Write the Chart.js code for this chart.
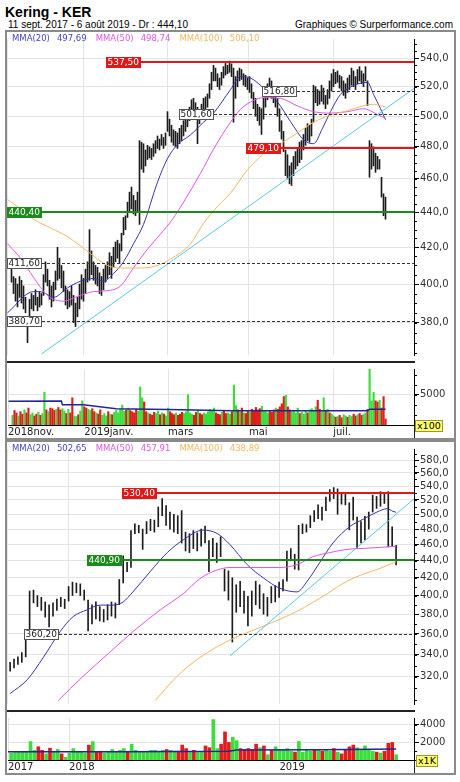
<!DOCTYPE html>
<html>
<head>
<meta charset="utf-8">
<script src="https://cdn.jsdelivr.net/npm/chart.js@4.4.1/dist/chart.umd.min.js"></script>
<style>
  body { margin: 0; background: #fff; font-family: "DejaVu Sans", sans-serif; }
  #page { position: relative; width: 460px; height: 782px; overflow: hidden; }
  .abs { position: absolute; white-space: nowrap; }
  .frame { position: absolute; border: 2px solid #8a8a8a; }
  canvas { position: absolute; }
  .legend { position: absolute; font-size: 8.5px; line-height: 10px; white-space: nowrap; z-index: 3; }
  .legend span { margin-right: 7px; }
  .legend span.v { margin-right: 9px; }
  .unit { position: absolute; font-size: 9.5px; line-height: 10px; background: #ffff70; border: 1px solid #9a9a20; padding: 0 1px; z-index: 3; }
  .rule { position: absolute; background: #222; z-index: 2; }
</style>
</head>
<body>
<div id="page">
  <div class="abs" style="left:5px;top:5px;font:bold 14px 'Liberation Sans';line-height:14px;">Kering - KER</div>
  <div class="abs" style="left:8px;top:19px;font:10px 'Liberation Sans';line-height:12px;">11 sept. 2017 - 6 août 2019 - Dr : 444,10</div>
  <div class="abs" style="right:7px;top:19px;font:10px 'Liberation Sans';line-height:12px;">Graphiques © Surperformance.com</div>

  <div class="frame" style="left:5px;top:30px;width:447px;height:406px;"></div>
  <div class="frame" style="left:5px;top:440px;width:447px;height:331px;"></div>

  <canvas id="topPrice" width="447" height="330" style="left:7px;top:32px;"></canvas>
  <canvas id="topVol" width="447" height="76" style="left:7px;top:362px;"></canvas>
  <canvas id="botPrice" width="447" height="269" style="left:7px;top:442px;"></canvas>
  <canvas id="botVol" width="447" height="62" style="left:7px;top:711px;"></canvas>

  <div class="rule" style="left:7px;top:361px;width:408px;height:2px;"></div>
  <div class="rule" style="left:7px;top:710px;width:408px;height:2px;"></div>
  <div class="rule" style="left:414px;top:425px;width:1px;height:13px;"></div>
  <div class="rule" style="left:414px;top:760px;width:1px;height:13px;"></div>

  <div class="legend" style="left:12px;top:33px;">
    <span style="color:#4545c0">MMA(20)</span><span class="v" style="color:#4545c0">497,69</span><span style="color:#e055e0">MMA(50)</span><span class="v" style="color:#e055e0">498,74</span><span style="color:#f0b860">MMA(100)</span><span class="v" style="color:#f0b860">506,10</span>
  </div>
  <div class="legend" style="left:12px;top:443px;">
    <span style="color:#4545c0">MMA(20)</span><span class="v" style="color:#4545c0">502,65</span><span style="color:#e055e0">MMA(50)</span><span class="v" style="color:#e055e0">457,91</span><span style="color:#f0b860">MMA(100)</span><span class="v" style="color:#f0b860">438,89</span>
  </div>
  <div class="unit" style="left:415px;top:420px;">x100</div>
  <div class="unit" style="left:416px;top:755px;">x1K</div>
</div>

<script>
// ---- daily panel (nov. 2018 - août 2019), one bar per session ----
const topHigh = [
  410,404,403,400,404,402,399,393,380,392, 395,394,397,393,396,395,405,412,408,402,
  399,401,407,420,414,410,407,399,397,396, 399,394,390,393,400,405,403,408,412,430,
  418,412,410,409,406,404,408,410,412,417, 415,420,423,424,422,428,437,438,446,452,
  455,450,447,452,484,483,482,478,481,480, 479,482,484,487,485,488,486,489,503,498,
  494,491,490,489,492,494,497,499,503,506, 511,512,509,506,504,508,512,513,515,522,
  530,535,533,529,526,530,534,537,535,538, 536,533,527,531,533,532,529,528,526,527,
  522,516,512,508,506,505,512,518,522,526, 524,520,518,512,505,497,490,478,475,468,
  470,474,477,479,483,484,488,492,495,494, 498,521,520,518,517,521,519,514,518,524,
  529,532,530,531,528,527,524,522,526,528, 533,531,527,532,534,531,529,534,524,484,
  482,480,476,474,472,461,451,449
];
const topLow = [
  401,395,391,388,393,390,387,385,370,381, 387,386,389,386,388,389,394,401,399,392,
  388,391,397,402,403,398,396,389,387,388, 389,380,378,383,387,392,391,395,401,402,
  405,402,400,399,395,394,397,401,403,405, 403,409,412,414,411,418,427,430,437,440,
  442,439,438,440,433,466,464,468,472,473, 472,474,476,479,478,481,479,481,490,487,
  483,481,480,479,482,484,487,490,493,497, 500,502,498,482,495,500,503,505,506,512,
  518,524,524,520,518,521,526,528,529,530, 527,496,512,520,524,525,521,520,518,516,
  512,505,500,497,494,488,498,506,511,514, 512,509,506,500,490,485,477,462,460,457,
  456,462,466,468,470,472,478,481,484,483, 487,496,509,507,508,510,508,505,508,512,
  517,520,522,523,519,517,514,512,516,518, 521,520,518,522,524,522,520,524,507,461,
  466,468,464,466,466,449,438,436
];
const topVol = [
  1600,2400,2000,1500,2200,1800,2500,2000,2800,1700, 2000,1500,1800,2100,1600,1900,5400,2500,2200,2800,
  2700,2400,2600,2900,2500,2700,2300,1900,2600,2000, 4500,1500,1400,1700,2300,4000,3000,2800,2600,2400,
  2700,2200,2000,1800,2500,1600,1900,1500,2200,1800, 1700,2100,2400,2000,2600,3300,2300,2500,2800,2400,
  2200,2000,2600,2300,6300,4500,3800,2200,2000,1800, 1600,2100,1900,2300,1700,2000,1800,1500,2800,2200,
  1900,1700,2000,1600,1800,2100,1900,2200,5000,2000, 1800,1600,2100,2400,1900,1700,2000,1800,2200,2600,
  2400,2800,2000,1800,1700,2100,2300,1900,2000,1800, 2200,6600,3200,2500,2200,2800,2000,1900,2400,2100,
  2600,2300,2900,2500,2700,3100,2400,2200,2000,2300, 2100,2500,2800,2600,3000,3500,4700,4900,3000,2500,
  2200,2400,2000,2800,1900,2100,1800,2300,2000,2500, 2700,2400,3000,4100,2600,2200,4500,2400,2600,2000,
  1800,1500,1300,1400,1600,1200,1700,1500,1300,1600, 1400,1800,1500,1700,1900,1600,1800,2000,2600,9300,
  4000,5400,4000,3800,4100,2800,4700,1000
];
const topDir =
  "uddudduddu" + "udduduudud" + "ddudduudud" + "duuduudduu" + "ddudduuudu" +
  "duuuuuudud" + "ddduuuddud" + "dduududuud" + "dduddduuuu" + "uddudduuuu" +
  "uudddudduu" + "duudududdu" + "ddddduuuud" + "dduddddudd" + "uuuuduuudu" +
  "uuudduudud" + "uududduudu" + "uddudduudu" + "uudduddd";

const topMa20Idx = [-2, 11, 14.5, 21, 28, 34.5, 41, 46, 51, 56, 61, 66, 73, 78, 83, 89.5, 96, 101, 109.5, 114.5, 119.5, 126, 133, 139.5, 146, 151, 155.5, 159.5, 164.5, 169.5, 174.5, 178, 181, 184.5, 187];
const topMa20 = [385, 396, 396, 393, 398, 401.5, 403, 401.5, 405.6, 412, 422, 433, 458, 472.6, 481.5, 487.7, 496, 502, 518, 527, 526, 519, 509.5, 496.4, 484.6, 482, 492, 503, 514.7, 519.7, 522.4, 523, 514.7, 505, 497.7];
const topMa50Idx = [-2, 4.5, 11, 18, 26, 33, 41, 48, 54.5, 61, 68, 74.5, 80.5, 86, 94.5, 101, 109.5, 114.5, 119.5, 126, 134.5, 143, 151, 159.5, 168, 176, 179.5, 183, 187];
const topMa50 = [422, 414, 403.6, 394, 391, 393.5, 396, 396.5, 399, 408.7, 419, 427.5, 436, 446, 463.4, 478.5, 496, 504.5, 509.5, 512.5, 512, 506.8, 503, 502, 503, 505, 503.6, 501, 498.7];
const topMa100Idx = [-2, 4.5, 11, 19.5, 28, 39.5, 48, 54.5, 64.5, 73, 79.5, 89.5, 96, 103, 109.5, 118, 126, 134.5, 143, 151, 159.5, 168, 176, 181, 187];
const topMa100 = [447.6, 442, 436, 431, 426, 416.5, 410, 408.6, 408.6, 410, 413.5, 422, 433.6, 443.5, 451.4, 465.6, 475.4, 482, 489, 496, 500.6, 503.6, 507, 508, 506.1];
const topTrendIdx = [15, 201.5];
const topTrendVal = [364.5, 519];
const topVolAvgIdx = [-2, 24.5, 25, 35.5, 52, 78, 110, 178, 179, 187];
const topVolAvg = [3920, 3950, 3330, 3330, 2700, 2550, 2350, 2350, 2600, 2600];
const topMonthIdx = [-2.25, 36, 78, 118.5, 160.75];
const topMonthLabels = ["2018nov.", "2019janv.", "mars", "mai", "juil."];
const topPriceTicks = [380, 400, 420, 440, 460, 480, 500, 520, 540];
const topVolTicks = [5000];
const topLevels = [
  { value: 537.5, from: 47, kind: "res" },
  { value: 516.8, from: 125.5, kind: "dash" },
  { value: 501.6, from: 83.5, kind: "dash" },
  { value: 479.1, from: 117, kind: "res" },
  { value: 440.4, from: -2.25, kind: "sup" },
  { value: 411.6, from: -2.25, kind: "dash" },
  { value: 380.7, from: -2.25, kind: "dash" },
];

// ---- weekly panel (sept. 2017 - août 2019), one bar per week ----
const botHigh = [
  333,336,338,342,357,405,406,400,398,393, 390,392,396,398,396,410,415,414,413,406,
  395,390,393,388,385,390,393,392,418,446, 438,478,487,485,480,490,493,492,510,522,
  512,503,500,498,505,476,474,478,475,480, 484,465,468,462,470,430,428,420,412,416,
  405,399,405,416,412,402,398,410,411,415, 418,452,455,448,485,487,486,498,505,513,
  510,524,535,538,536,530,528,516,524,496, 490,497,503,527,525,532,531,532,483,459
];
const botLow = [
  325,328,331,333,338,355,392,388,384,377, 367,378,384,388,386,394,400,403,400,395,
  363,370,375,373,372,374,378,376,390,414, 427,432,474,475,454,474,478,476,483,498,
  485,480,476,474,462,452,450,455,452,458, 462,427,445,438,445,405,395,352,382,388,
  381,368,378,390,386,380,378,392,393,398, 405,416,440,430,429,474,476,482,490,494,
  492,505,518,522,500,514,513,479,492,455, 462,466,480,503,508,511,515,457,458,435
];
const botVol = [
  800,850,900,950,1000,2100,1100,1500,1100,700, 1350,1000,1200,700,300,800,1300,1000,900,800,
  1700,2100,900,1000,800,1000,1200,900,1100,1300, 1000,1800,1100,1000,900,1000,1100,1100,1000,1100,
  1200,1100,1000,1000,1700,1300,900,1100,900,900, 1600,1400,4600,1300,1800,3200,2000,2600,2200,1300,
  1200,1300,1200,1800,1400,1600,600,1100,1500,1200, 1100,1300,1000,900,2100,900,1100,1000,1100,1100,
  1000,1100,1000,1300,900,700,1200,1500,1700,1400, 1100,1600,1100,1000,900,800,1000,1900,2000,600
];
const botDir =
  "uuuuuuuddu" + "duuduuuuuu" + "dudduuuuuu" + "duuuuuuuuu" + "duuddduduu" +
  "dduuddduud" + "ddddududuu" + "uuuduuuudu" + "duududdddu" + "uuuududddu";

const botMa20Idx = [0, 4.4, 8.5, 12.8, 16.2, 19.7, 23.1, 26.4, 29, 31.5, 35.9, 40.3, 44.4, 49.5, 53.1, 56.4, 60.8, 64.9, 69.2, 73.6, 76.2, 79.5, 82.8, 87.2, 90.5, 94.1, 96.7, 98.2, 99];
const botMa20 = [305.6, 317.5, 337.4, 362.2, 377.6, 384.5, 389.6, 389.6, 393, 404, 427, 450, 466, 478.6, 474.3, 460, 435.5, 420, 408, 404, 416, 438.5, 462, 483.6, 493, 503, 507.6, 504, 502.6];
const botMa50Idx = [12.3, 18.7, 25.6, 31.5, 38.5, 44.4, 48.7, 53.1, 56.4, 64.9, 69.2, 73.6, 77.7, 82, 86.4, 90.5, 94.9, 99];
const botMa50 = [299.7, 320.4, 342.4, 362.2, 384.5, 402, 419, 429, 432, 432, 432, 435.4, 445, 450, 454, 455.2, 456.5, 457.9];
const botMa100Idx = [37.2, 42.8, 48.7, 56.4, 64.9, 73.6, 81.3, 86.4, 90.5, 94.9, 99];
const botMa100 = [299.7, 320.4, 337.4, 354, 367.7, 383, 402, 416, 424, 431, 438.9];
const botTrendIdx = [56.4, 103.6];
const botTrendVal = [339, 521.5];
const botVolAvgIdx = [-0.8, 30, 56, 58, 80, 99];
const botVolAvg = [950, 950, 1000, 1150, 1180, 1250];
const botYearIdx = [-0.8, 14.9, 69];
const botYearLabels = ["2017", "2018", "2019"];
const botPriceTicks = [320, 340, 360, 380, 400, 420, 440, 460, 480, 500, 520, 540, 560, 580];
const botVolTicks = [2000, 4000];
const botLevels = [
  { value: 530.4, from: 28.7, kind: "res" },
  { value: 440.9, from: 19.7, kind: "sup" },
  { value: 360.2, from: 3.6, kind: "dash" },
];

// ---------------------------------------------------------------
const FONT = "DejaVu Sans";
const GRID = "#e4e4e4";
const pts = (xs, ys) => xs.map((x, i) => ({ x, y: ys[i] }));
const comma = (v, d) => v.toFixed(d).replace(".", ",");

const levelsPlugin = {
  id: "levels",
  afterDatasetsDraw(chart, args, opts) {
    const { ctx, chartArea: a, scales: { x, y } } = chart;
    ctx.save();
    ctx.font = "9px '" + FONT + "'";
    ctx.textBaseline = "middle";
    for (const l of opts.items || []) {
      const py = Math.round(y.getPixelForValue(l.value));
      const px = Math.max(a.left, Math.round(x.getPixelForValue(l.from)));
      const dash = l.kind === "dash";
      ctx.setLineDash(dash ? [3, 2] : []);
      ctx.lineWidth = dash ? 1 : 2;
      ctx.strokeStyle = dash ? "#333" : (l.kind === "res" ? "#e01818" : "#1a8a1a");
      ctx.beginPath();
      ctx.moveTo(px, dash ? py + 0.5 : py);
      ctx.lineTo(a.right, dash ? py + 0.5 : py);
      ctx.stroke();
      ctx.setLineDash([]);
      const txt = comma(l.value, 2);
      const w = Math.ceil(ctx.measureText(txt).width) + 3;
      if (dash) {
        ctx.fillStyle = "#fff";
        ctx.fillRect(px, py - 5, w, 11);
        ctx.strokeStyle = "#555";
        ctx.lineWidth = 1;
        ctx.strokeRect(px + 0.5, py - 4.5, w - 1, 10);
        ctx.fillStyle = "#222";
      } else {
        ctx.fillStyle = l.kind === "res" ? "#e01818" : "#1a8a1a";
        ctx.fillRect(px, py - 5, w, 11);
        ctx.fillStyle = "#fff";
      }
      ctx.fillText(txt, px + 1.5, py + 0.5);
    }
    ctx.restore();
  },
};

const minorTicksPlugin = {
  id: "minorTicks",
  afterDraw(chart, args, opts) {
    if (!opts.step) return;
    const { ctx, chartArea: a, scales: { y } } = chart;
    ctx.save();
    ctx.strokeStyle = "#000";
    ctx.lineWidth = 1;
    const start = Math.ceil(y.min / opts.step) * opts.step;
    for (let v = start; v <= y.max; v += opts.step) {
      const py = Math.round(y.getPixelForValue(v)) + 0.5;
      ctx.beginPath();
      ctx.moveTo(a.right, py);
      ctx.lineTo(a.right + 3, py);
      ctx.stroke();
    }
    ctx.restore();
  },
};

const maLine = (data, color, width) => ({
  type: "line", data, borderColor: color, borderWidth: width || 1,
  pointRadius: 0, cubicInterpolationMode: "monotone", order: 1,
});

function priceChart(id, o) {
  return new Chart(document.getElementById(id), {
    type: "bar",
    data: {
      datasets: [
        {
          data: o.high.map((h, i) => ({ x: i, y: [o.low[i], h] })),
          backgroundColor: "#1c1c1c", barThickness: 1, order: 5,
        },
        maLine(pts(o.trendIdx, o.trendVal), "#5cc6ea"),
        maLine(pts(o.ma100Idx, o.ma100), "#f0b860"),
        maLine(pts(o.ma50Idx, o.ma50), "#e055e0"),
        maLine(pts(o.ma20Idx, o.ma20), "#3535a8"),
      ],
    },
    options: {
      animation: false, responsive: false, devicePixelRatio: 1,
      layout: { padding: 0 },
      plugins: {
        legend: { display: false }, tooltip: { enabled: false },
        levels: { items: o.levels }, minorTicks: { step: o.minor },
      },
      scales: {
        x: {
          type: "linear", min: o.xmin, max: o.xmax, offset: false,
          grid: { offset: false, color: GRID, drawTicks: false },
          border: { display: false },
          ticks: { display: false },
          afterBuildTicks: (s) => { s.ticks = o.xTicks.map((v) => ({ value: v })); },
          afterFit: (s) => { s.height = 0; },
        },
        y: {
          type: "logarithmic", position: "right", min: o.ymin, max: o.ymax,
          grid: { color: GRID, tickColor: "#000", tickLength: 5 },
          border: { color: "#000" },
          ticks: { padding: 1, color: "#333", font: { family: FONT, size: 10 }, callback: (v) => comma(v, 1) },
          afterBuildTicks: (s) => { s.ticks = o.yTicks.map((v) => ({ value: v })); },
          afterFit: (s) => { s.width = 40; },
        },
      },
    },
    plugins: [levelsPlugin, minorTicksPlugin],
  });
}

function volChart(id, o) {
  return new Chart(document.getElementById(id), {
    type: "bar",
    data: {
      datasets: [
        {
          data: o.vol.map((v, i) => ({ x: i, y: v })),
          backgroundColor: o.dir.split("").map((d) => (d === "u" ? "#3cdc3c" : "#e01c1c")),
          barThickness: o.bw, order: 2,
        },
        {
          type: "line", data: pts(o.avgIdx, o.avg), borderColor: "#24249a",
          borderWidth: 1.5, pointRadius: 0, order: 1,
        },
      ],
    },
    options: {
      animation: false, responsive: false, devicePixelRatio: 1,
      layout: { padding: 0 },
      plugins: { legend: { display: false }, tooltip: { enabled: false }, minorTicks: { step: o.minor } },
      scales: {
        x: {
          type: "linear", min: o.xmin, max: o.xmax, offset: false,
          grid: { offset: false, color: GRID, drawTicks: false },
          border: { color: "#000" },
          ticks: {
            align: "start", autoSkip: false, maxRotation: 0, padding: 1, color: "#222",
            font: { family: FONT, size: 10 }, callback: (v, i) => o.xLabels[i],
          },
          afterBuildTicks: (s) => { s.ticks = o.xTicks.map((v) => ({ value: v })); },
          afterFit: (s) => { s.height = 13; },
        },
        y: {
          position: "right", min: 0, max: o.vmax,
          grid: { color: GRID, tickColor: "#000", tickLength: 5 },
          border: { color: "#000" },
          ticks: { padding: 1, color: "#333", font: { family: FONT, size: 10 }, callback: (v) => String(v) },
          afterBuildTicks: (s) => { s.ticks = o.yTicks.map((v) => ({ value: v })); },
          afterFit: (s) => { s.width = 40; },
        },
      },
    },
    plugins: [minorTicksPlugin],
  });
}

priceChart("topPrice", {
  high: topHigh, low: topLow, xmin: -2.25, xmax: 201.25, ymin: 364, ymax: 554,
  xTicks: topMonthIdx, yTicks: topPriceTicks, levels: topLevels, minor: 5,
  ma20Idx: topMa20Idx, ma20: topMa20, ma50Idx: topMa50Idx, ma50: topMa50,
  ma100Idx: topMa100Idx, ma100: topMa100, trendIdx: topTrendIdx, trendVal: topTrendVal,
});
volChart("topVol", {
  vol: topVol, dir: topDir, bw: 1.5, xmin: -2.25, xmax: 201.25, vmax: 9260,
  avgIdx: topVolAvgIdx, avg: topVolAvg, xTicks: topMonthIdx, xLabels: topMonthLabels,
  yTicks: topVolTicks, minor: 1667,
});
priceChart("botPrice", {
  high: botHigh, low: botLow, xmin: -0.8, xmax: 103.6, ymin: 297, ymax: 598,
  xTicks: botYearIdx, yTicks: botPriceTicks, levels: botLevels, minor: 10,
  ma20Idx: botMa20Idx, ma20: botMa20, ma50Idx: botMa50Idx, ma50: botMa50,
  ma100Idx: botMa100Idx, ma100: botMa100, trendIdx: botTrendIdx, trendVal: botTrendVal,
});
volChart("botVol", {
  vol: botVol, dir: botDir, bw: 3, xmin: -0.8, xmax: 103.6, vmax: 4780,
  avgIdx: botVolAvgIdx, avg: botVolAvg, xTicks: botYearIdx, xLabels: botYearLabels,
  yTicks: botVolTicks, minor: 1000,
});
</script>
</body>
</html>
